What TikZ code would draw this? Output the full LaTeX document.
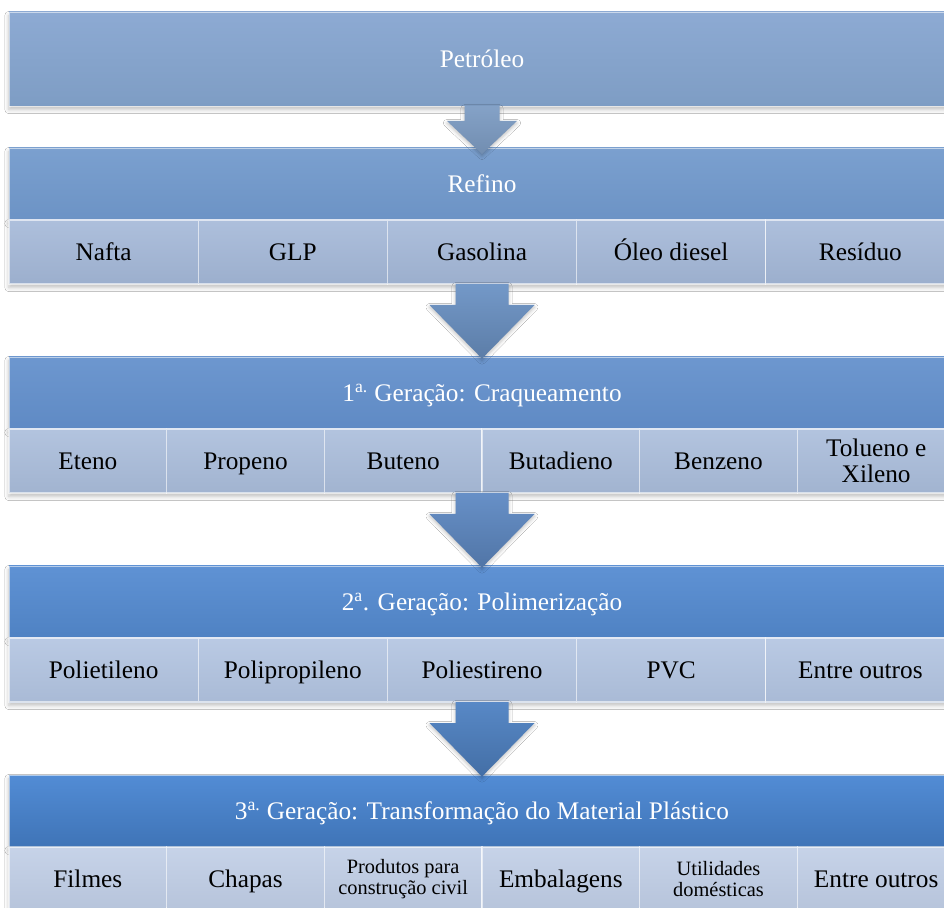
\documentclass[tikz,border=0pt]{standalone}
\usepackage{fontspec}
\setmainfont{Liberation Serif}
\usepackage{tikz}
\usetikzlibrary{calc}
\usetikzlibrary{positioning}
\usetikzlibrary{shadows.blur}

\definecolor{petroTop}{HTML}{8DAAD3}
\definecolor{petroBot}{HTML}{7E9DC4}
\definecolor{refTop}{HTML}{7BA0CF}
\definecolor{refBot}{HTML}{6C93C5}
\definecolor{refRow}{HTML}{A4B8D8}
\definecolor{oneTop}{HTML}{6D97CF}
\definecolor{oneBot}{HTML}{5F8AC4}
\definecolor{oneRow}{HTML}{AABDDB}
\definecolor{twoTop}{HTML}{5F92D4}
\definecolor{twoBot}{HTML}{4F82C3}
\definecolor{twoRow}{HTML}{B2C4E1}
\definecolor{threeTop}{HTML}{528CD5}
\definecolor{threeBot}{HTML}{3F74B7}
\definecolor{threeRow}{HTML}{C0CEE6}

\tikzset{
  header/.style={rectangle, inner sep=0pt, outer sep=0pt, minimum width=23.65cm, minimum height=1.8cm,
    text=white, font=\fontsize{18}{21}\selectfont, text height=15pt, text depth=2.8pt,
    draw=white, draw opacity=0.55, line width=0.6pt,
    blur shadow={shadow xshift=0pt, shadow yshift=-2.5pt, shadow blur radius=3pt, shadow opacity=25}},
  rowbg/.style={rectangle, inner sep=0pt, outer sep=0pt, minimum width=23.65cm, minimum height=1.6cm,
    blur shadow={shadow xshift=0pt, shadow yshift=-2.5pt, shadow blur radius=3pt, shadow opacity=25}},
  cell/.style={rectangle, inner sep=0pt, outer sep=0pt, minimum height=1.6cm, align=center,
    font=\fontsize{18}{18.5}\selectfont, text height=15pt, text depth=2.8pt,
    draw=white, draw opacity=0.6, line width=0.8pt},
  cellfive/.style={cell, minimum width=4.73cm},
  cellsix/.style={cell, minimum width=3.9417cm},
  twolines/.style={text height={}, text depth={}},
  small/.style={twolines, font=\fontsize{14.5}{15}\selectfont},
  flow/.style={blur shadow={shadow xshift=0pt, shadow yshift=-1.5pt, shadow blur radius=2.5pt, shadow opacity=25}}
}

\begin{document}
\begin{tikzpicture}

\clip (0,0) rectangle (23.6,-22.7);
\fill[white] (0,0) rectangle (23.6,-22.7);

% crude oil
\node[header, minimum height=2.35cm, top color=petroTop, bottom color=petroBot, anchor=north west] (petroleo) at (0.225,-0.3) {Petróleo};

% refining
\node[header, below=1.05cm of petroleo, top color=refTop, bottom color=refBot] (refino) {Refino};
\node[rowbg, below=0pt of refino, fill=refRow] (refinorow) {};
\node[cellfive, top color=refRow!90!white, bottom color=refRow!95!black, anchor=north west] (nafta) at (refinorow.north west) {Nafta};
\node[cellfive, top color=refRow!90!white, bottom color=refRow!95!black, right=0pt of nafta] (glp) {GLP};
\node[cellfive, top color=refRow!90!white, bottom color=refRow!95!black, right=0pt of glp] (gasolina) {Gasolina};
\node[cellfive, top color=refRow!90!white, bottom color=refRow!95!black, right=0pt of gasolina] (diesel) {Óleo diesel};
\node[cellfive, top color=refRow!90!white, bottom color=refRow!95!black, right=0pt of diesel] (residuo) {Resíduo};

% 1st generation
\node[header, below=1.825cm of refinorow, top color=oneTop, bottom color=oneBot] (craqueamento) {1\textsuperscript{a.} Geração: Craqueamento};
\node[rowbg, below=0pt of craqueamento, fill=oneRow] (craqrow) {};
\node[cellsix, top color=oneRow!90!white, bottom color=oneRow!95!black, anchor=north west] (eteno) at (craqrow.north west) {Eteno};
\node[cellsix, top color=oneRow!90!white, bottom color=oneRow!95!black, right=0pt of eteno] (propeno) {Propeno};
\node[cellsix, top color=oneRow!90!white, bottom color=oneRow!95!black, right=0pt of propeno] (buteno) {Buteno};
\node[cellsix, top color=oneRow!90!white, bottom color=oneRow!95!black, right=0pt of buteno] (butadieno) {Butadieno};
\node[cellsix, top color=oneRow!90!white, bottom color=oneRow!95!black, right=0pt of butadieno] (benzeno) {Benzeno};
\node[cellsix, twolines, top color=oneRow!90!white, bottom color=oneRow!95!black, right=0pt of benzeno] (tolueno) {Tolueno e\\Xileno};

% 2nd generation
\node[header, below=1.825cm of craqrow, top color=twoTop, bottom color=twoBot] (polimerizacao) {2\textsuperscript{a}. Geração: Polimerização};
\node[rowbg, below=0pt of polimerizacao, fill=twoRow] (polirow) {};
\node[cellfive, top color=twoRow!90!white, bottom color=twoRow!95!black, anchor=north west] (polietileno) at (polirow.north west) {Polietileno};
\node[cellfive, top color=twoRow!90!white, bottom color=twoRow!95!black, right=0pt of polietileno] (polipropileno) {Polipropileno};
\node[cellfive, top color=twoRow!90!white, bottom color=twoRow!95!black, right=0pt of polipropileno] (poliestireno) {Poliestireno};
\node[cellfive, top color=twoRow!90!white, bottom color=twoRow!95!black, right=0pt of poliestireno] (pvc) {PVC};
\node[cellfive, top color=twoRow!90!white, bottom color=twoRow!95!black, right=0pt of pvc] (outrosdois) {Entre outros};

% 3rd generation
\node[header, below=1.825cm of polirow, top color=threeTop, bottom color=threeBot] (transformacao) {3\textsuperscript{a.} Geração: Transformação do Material Plástico};
\node[rowbg, below=0pt of transformacao, fill=threeRow] (transrow) {};
\node[cellsix, top color=threeRow!90!white, bottom color=threeRow!95!black, anchor=north west] (filmes) at (transrow.north west) {Filmes};
\node[cellsix, top color=threeRow!90!white, bottom color=threeRow!95!black, right=0pt of filmes] (chapas) {Chapas};
\node[cellsix, small, top color=threeRow!90!white, bottom color=threeRow!95!black, right=0pt of chapas] (construcao) {Produtos para\\construção civil};
\node[cellsix, top color=threeRow!90!white, bottom color=threeRow!95!black, right=0pt of construcao] (embalagens) {Embalagens};
\node[cellsix, small, top color=threeRow!90!white, bottom color=threeRow!95!black, right=0pt of embalagens] (utilidades) {Utilidades\\domésticas};
\node[cellsix, top color=threeRow!90!white, bottom color=threeRow!95!black, right=0pt of utilidades] (outrostres) {Entre outros};

% block arrows between the stages
\path[flow, top color=petroBot!95!white, bottom color=petroBot!90!black]
  ($(petroleo.south)+(-0.4375,0)$) -- ++(0,-0.375) -- ++(-0.4375,0) -- ($(refino.north)+(0,-0.15)$)
  -- ($(petroleo.south)+(0.875,-0.375)$) -- ++(-0.4375,0) -- ($(petroleo.south)+(0.4375,0)$) -- cycle;
\path[flow, top color=refBot!95!white, bottom color=refBot!85!black]
  ($(refinorow.south)+(-0.6625,0)$) -- ++(0,-0.525) -- ++(-0.65,0) -- ($(craqueamento.north)+(0,-0.04)$)
  -- ($(refinorow.south)+(1.3125,-0.525)$) -- ++(-0.65,0) -- ($(refinorow.south)+(0.6625,0)$) -- cycle;
\path[flow, top color=oneBot!95!white, bottom color=oneBot!85!black]
  ($(craqrow.south)+(-0.6625,0)$) -- ++(0,-0.525) -- ++(-0.65,0) -- ($(polimerizacao.north)+(0,-0.04)$)
  -- ($(craqrow.south)+(1.3125,-0.525)$) -- ++(-0.65,0) -- ($(craqrow.south)+(0.6625,0)$) -- cycle;
\path[flow, top color=twoBot!95!white, bottom color=twoBot!85!black]
  ($(polirow.south)+(-0.6625,0)$) -- ++(0,-0.525) -- ++(-0.65,0) -- ($(transformacao.north)+(0,-0.04)$)
  -- ($(polirow.south)+(1.3125,-0.525)$) -- ++(-0.65,0) -- ($(polirow.south)+(0.6625,0)$) -- cycle;

\end{tikzpicture}
\end{document}
